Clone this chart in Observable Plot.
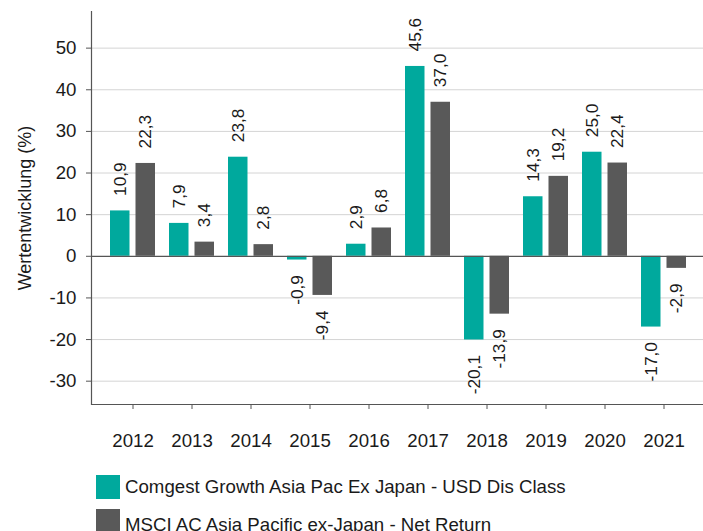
<!DOCTYPE html>
<html>
<head>
<meta charset="utf-8">
<script src="https://cdn.jsdelivr.net/npm/d3@7"></script>
<script src="https://cdn.jsdelivr.net/npm/@observablehq/plot@0.6"></script>
<style>
  body { margin: 0; background: #fff; font-family: "Liberation Sans", Arial, sans-serif; }
  #chart { position: relative; width: 703px; height: 531px; overflow: hidden; }
  .legend { position: absolute; left: 96px; font-size: 18.67px; color: #1a1a1a; }
  .row { display: flex; align-items: center; height: 24px; margin-bottom: 10px; white-space: nowrap; }
  .sw { width: 24px; height: 24px; margin-right: 5px; flex: none; }
</style>
</head>
<body>
<div id="chart"></div>
<script>
const years = ["2012","2013","2014","2015","2016","2017","2018","2019","2020","2021"];
const fundValues = [10.9, 7.9, 23.8, -0.9, 2.9, 45.6, -20.1, 14.3, 25.0, -17.0];
const indexValues = [22.3, 3.4, 2.8, -9.4, 6.8, 37.0, -13.9, 19.2, 22.4, -2.9];
const seriesNames = ["Comgest Growth Asia Pac Ex Japan - USD Dis Class", "MSCI AC Asia Pacific ex-Japan - Net Return"];
const seriesColors = ["#00A99D", "#595959"];
const yTicks = [-30, -20, -10, 0, 10, 20, 30, 40, 50];

const fund = years.map((year, i) => ({year, value: fundValues[i]}));
const index = years.map((year, i) => ({year, value: indexValues[i]}));
const fmt = d => d.value.toFixed(1).replace(".", ",");

const labelMarks = (data, dx) => [
  Plot.text(data.filter(d => d.value >= 0), {x: "year", y: "value", text: fmt, rotate: -90, textAnchor: "start", lineAnchor: "middle", dx, dy: -15, fill: "#1a1a1a", fontSize: 17.3}),
  Plot.text(data.filter(d => d.value < 0), {x: "year", y: "value", text: fmt, rotate: -90, textAnchor: "end", lineAnchor: "middle", dx, dy: 15, fill: "#1a1a1a", fontSize: 17.3})
];

const chart = Plot.plot({
  width: 703,
  height: 460,
  marginTop: 11,
  marginBottom: 56,
  marginLeft: 91,
  marginRight: 0,
  style: {fontFamily: "Liberation Sans, Arial, sans-serif", fontSize: "18.67px", color: "#1a1a1a", background: "white"},
  x: {type: "band", domain: years, range: [101.6, 695], padding: 0, label: null},
  y: {domain: [-35.6, 58.8], label: null},
  marks: [
    Plot.gridY(yTicks.filter(t => t !== 0), {stroke: "#d4d4d4", strokeOpacity: 1}),
    Plot.barY(fund, {x: "year", y: "value", fill: seriesColors[0], insetLeft: 7, insetRight: 32.5}),
    Plot.barY(index, {x: "year", y: "value", fill: seriesColors[1], insetLeft: 32.5, insetRight: 7}),
    Plot.ruleY([0], {stroke: "#555", strokeWidth: 1.2}),
    Plot.ruleY([-35.6], {stroke: "#555", strokeWidth: 1.2}),
    Plot.frame({anchor: "left", stroke: "#555", strokeWidth: 1.2}),
    Plot.axisY({ticks: yTicks, tickSize: 5, tickPadding: 10, tickFormat: d => String(d), label: null, stroke: "#555"}),
    Plot.axisX({tickSize: 5, tickPadding: 24, label: null, stroke: "#555"}),
    ...labelMarks(fund, -12.6),
    ...labelMarks(index, 12.6),
    Plot.text(["Wertentwicklung (%)"], {frameAnchor: "left", dx: -66, rotate: -90, text: d => d, textAnchor: "middle", lineAnchor: "middle", fontSize: 18, fill: "#1a1a1a"})
  ]
});

const root = document.getElementById("chart");
root.appendChild(chart);
const legend = document.createElement("div");
legend.className = "legend";
legend.style.top = "475px";
seriesNames.forEach((name, i) => {
  const row = document.createElement("div");
  row.className = "row";
  const sw = document.createElement("div");
  sw.className = "sw";
  sw.style.background = seriesColors[i];
  const label = document.createElement("span");
  label.textContent = name;
  if (i === 1) label.style.transform = "translateY(4px)";
  row.appendChild(sw);
  row.appendChild(label);
  legend.appendChild(row);
});
root.appendChild(legend);
</script>
</body>
</html>
